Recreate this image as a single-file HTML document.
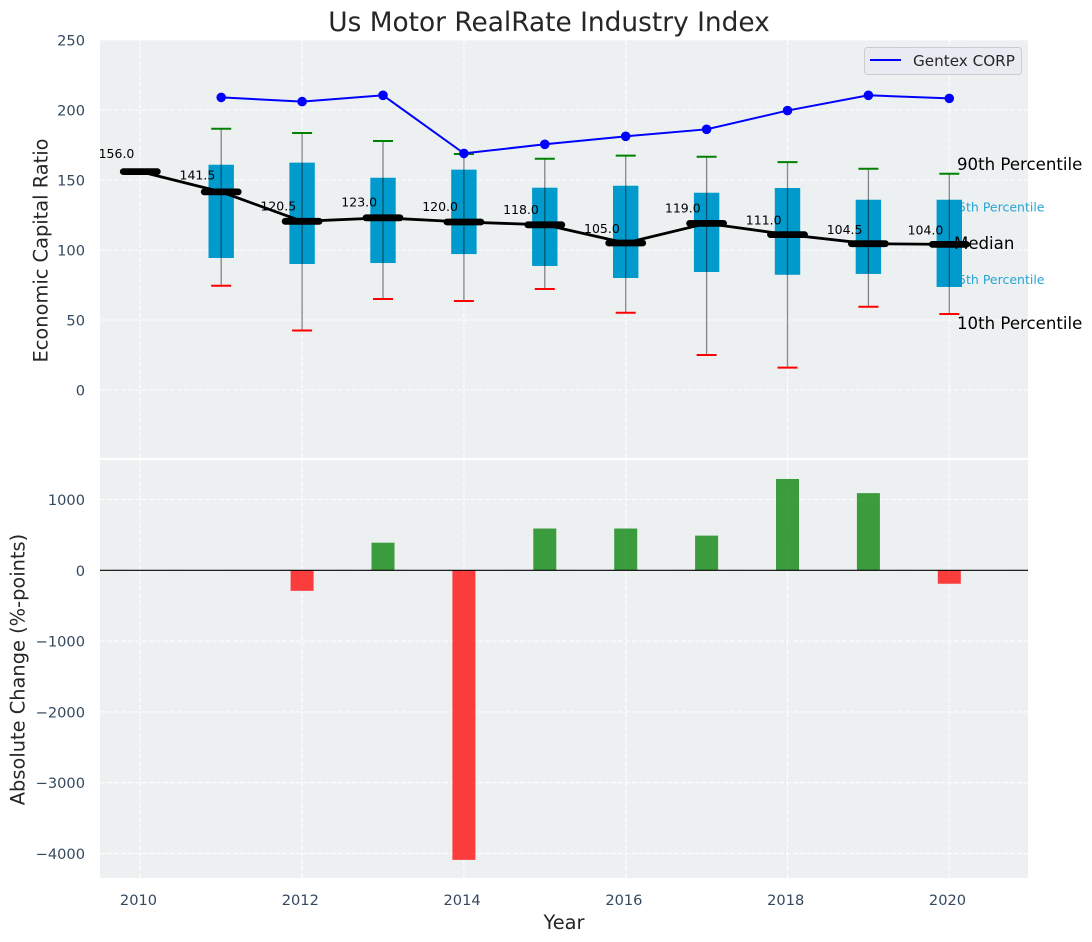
<!DOCTYPE html>
<html lang="en">
<head>
<meta charset="utf-8">
<title>Us Motor RealRate Industry Index</title>
<style>
html,body{margin:0;padding:0;background:#fff;}
svg{display:block;font-family:"DejaVu Sans","Liberation Sans",sans-serif;}
</style>
</head>
<body>
<svg id="chart" xmlns="http://www.w3.org/2000/svg" width="1092" height="942" viewBox="0 0 1092 942">
  <text x="549" y="31" text-anchor="middle" font-size="26.4" fill="#262626">Us Motor RealRate Industry Index</text>
  <rect x="100" y="40" width="928" height="418" fill="#ecf0f1"/>
  <rect x="100" y="460" width="928" height="418" fill="#ecf0f1"/>
  <g id="grid"></g>
  <g id="yticks"></g>
  <g id="xticks"></g>
  <text transform="translate(47.5,250.5) rotate(-90)" text-anchor="middle" font-size="19.4" fill="#262626">Economic Capital Ratio</text>
  <text transform="translate(24.5,669.5) rotate(-90)" text-anchor="middle" font-size="19.4" fill="#262626">Absolute Change (%-points)</text>
  <text x="564" y="929" text-anchor="middle" font-size="19.4" fill="#262626">Year</text>
  <text x="1044.5" y="211.5" text-anchor="end" font-size="12.5" fill="#27a5d2">75th Percentile</text>
  <text x="1044.5" y="284" text-anchor="end" font-size="12.5" fill="#27a5d2">25th Percentile</text>
  <g id="bars"></g>
  <line x1="100" x2="1028" y1="570.3" y2="570.3" stroke="#000" stroke-width="1.2"/>
  <g id="boxes"></g>
  <g id="peer"></g>
  <g id="median"></g>
  <text x="957" y="170" font-size="16.6" fill="#000">90th Percentile</text>
  <text x="954" y="249" font-size="16.6" fill="#000">Median</text>
  <text x="957" y="329" font-size="16.6" fill="#000">10th Percentile</text>
  <g>
    <rect x="864.5" y="47.5" width="157" height="27" rx="3" fill="#eaeaf2" fill-opacity="0.9" stroke="#cccccc" stroke-width="1"/>
    <line x1="870" x2="901" y1="60" y2="60" stroke="#0000ff" stroke-width="2"/>
    <text x="913" y="66" font-size="15.2" fill="#262626">Gentex CORP</text>
  </g>
</svg>
<script>
const years = [2010, 2011, 2012, 2013, 2014, 2015, 2016, 2017, 2018, 2019, 2020];
const medianValues = [156, 141.5, 120.5, 123, 120, 118, 105, 119, 111, 104.5, 104];
const gentexValues = [null, 209, 206, 210.5, 169, 175.5, 181.2, 186.2, 199.6, 210.5, 208.3];
const p90Values = [null, 186.6, 183.6, 177.9, 168.6, 165.2, 167.4, 166.6, 162.8, 158, 154.5];
const p75Values = [null, 160.9, 162.4, 151.6, 157.4, 144.5, 145.9, 140.9, 144.3, 135.9, 135.9];
const p25Values = [null, 94.3, 90, 90.7, 97.1, 88.6, 80, 84.3, 82.3, 82.9, 73.6];
const p10Values = [null, 74.5, 42.5, 65, 63.6, 72.1, 55.2, 25, 16, 59.5, 54.3];
const changeValues = [null, null, -290, 390, -4090, 590, 590, 490, 1290, 1090, -190];
const xTickYears = [2010, 2012, 2014, 2016, 2018, 2020];
const xGridYears = [2010, 2012, 2014, 2016, 2018, 2020];
const topTicks = [0, 50, 100, 150, 200, 250];
const bottomTicks = [-4000, -3000, -2000, -1000, 0, 1000];

const NS = 'http://www.w3.org/2000/svg';
const sx = v => 140.3 + (v - 2010) * 80.9;
const syTop = v => 390 - v * 1.4;
const syBot = v => 570.3 - v * 0.0708;
const fmt = v => String(v).replace('-', '\u2212');

function make(parent, tag, attrs, text) {
  const el = document.createElementNS(NS, tag);
  for (const k in attrs) el.setAttribute(k, attrs[k]);
  if (text !== undefined) el.textContent = text;
  parent.appendChild(el);
  return el;
}
const gGrid = document.getElementById('grid');
const gY = document.getElementById('yticks');
const gX = document.getElementById('xticks');
const gBars = document.getElementById('bars');
const gBoxes = document.getElementById('boxes');
const gPeer = document.getElementById('peer');
const gMed = document.getElementById('median');
const gridStyle = {stroke: '#ffffff', 'stroke-width': 1.1, 'stroke-dasharray': '5 2', 'stroke-opacity': 0.9};

xGridYears.forEach(y => {
  [[40, 458], [460, 878]].forEach(r => {
    const l = make(gGrid, 'line', Object.assign({x1: sx(y), x2: sx(y), y1: r[0], y2: r[1]}, gridStyle));
    
    
  });
});
topTicks.forEach(t => {
  const l = make(gGrid, 'line', Object.assign({x1: 100, x2: 1028, y1: syTop(t), y2: syTop(t)}, gridStyle));
  
  
  const label = make(gY, 'text', {x: 85, y: syTop(t) + 5.5, 'text-anchor': 'end', 'font-size': 14.6, fill: '#34495e'}, fmt(t));
  
  
});
bottomTicks.forEach(t => {
  const l = make(gGrid, 'line', Object.assign({x1: 100, x2: 1028, y1: syBot(t), y2: syBot(t)}, gridStyle));
  
  
  const label = make(gY, 'text', {x: 85, y: syBot(t) + 5.5, 'text-anchor': 'end', 'font-size': 14.6, fill: '#34495e'}, fmt(t));
  
  
});
xTickYears.forEach(y => {
  const label = make(gX, 'text', {x: sx(y) - 1.8, y: 905, 'text-anchor': 'middle', 'font-size': 14.6, fill: '#34495e'}, String(y));
  
  
});

years.forEach((y, i) => {
  const v = changeValues[i];
  if (v === null) return;
  const y0 = syBot(Math.max(v, 0)), y1 = syBot(Math.min(v, 0));
  const bar = make(gBars, 'rect', {x: sx(y) - 11.5, y: y0, width: 23, height: y1 - y0, fill: v >= 0 ? '#008000' : '#ff0000', 'fill-opacity': 0.75});
  
  
});

years.forEach((y, i) => {
  if (p75Values[i] === null) return;
  const x = sx(y);
  const box = make(gBoxes, 'rect', {x: x - 12.7, y: syTop(p75Values[i]), width: 25.4, height: syTop(p25Values[i]) - syTop(p75Values[i]), fill: '#009acd'});
  
  
  const whisk = make(gBoxes, 'line', {x1: x, x2: x, y1: syTop(p90Values[i]), y2: syTop(p10Values[i]), stroke: '#000', 'stroke-opacity': 0.45, 'stroke-width': 1.3});
  
  
  const capHi = make(gBoxes, 'line', {x1: x - 10, x2: x + 10, y1: syTop(p90Values[i]), y2: syTop(p90Values[i]), stroke: '#008000', 'stroke-width': 2});
  
  
  const capLo = make(gBoxes, 'line', {x1: x - 10, x2: x + 10, y1: syTop(p10Values[i]), y2: syTop(p10Values[i]), stroke: '#ff0000', 'stroke-width': 2});
  
  
});

const peerPts = years.map((y, i) => gentexValues[i] === null ? null : sx(y) + ',' + syTop(gentexValues[i])).filter(Boolean).join(' ');
const peerLine = make(gPeer, 'polyline', {points: peerPts, fill: 'none', stroke: '#0000ff', 'stroke-width': 2});


years.forEach((y, i) => {
  if (gentexValues[i] === null) return;
  const dot = make(gPeer, 'circle', {cx: sx(y), cy: syTop(gentexValues[i]), r: 4.8, fill: '#0000ff'});
  
  
});

const medPts = years.map((y, i) => sx(y) + ',' + syTop(medianValues[i])).join(' ');
const medLine = make(gMed, 'polyline', {points: medPts, fill: 'none', stroke: '#000', 'stroke-width': 2.8});


years.forEach((y, i) => {
  const v = medianValues[i];
  const x = sx(y), yy = syTop(v);
  const seg = make(gMed, 'line', {x1: x - 17, x2: x + 17, y1: yy, y2: yy, stroke: '#000', 'stroke-width': 6.8, 'stroke-linecap': 'round'});
  
  
  const label = make(gMed, 'text', {x: x - 23.8, y: yy - 9.8 - (v - 105) * 0.075, 'text-anchor': 'middle', 'font-size': 12.5, fill: '#000'}, v.toFixed(1));
  
  
});
</script>
</body>
</html>
